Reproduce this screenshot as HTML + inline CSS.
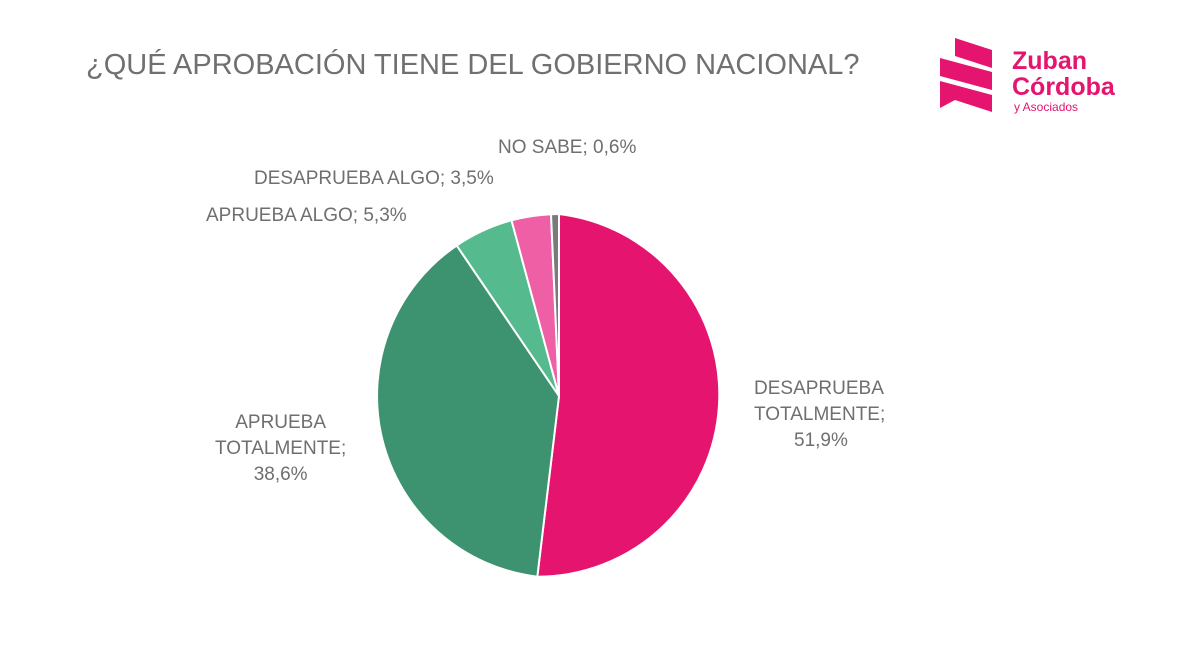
<!DOCTYPE html>
<html><head><meta charset="utf-8"><style>
body{margin:0;width:1200px;height:667px;background:#fff;overflow:hidden;font-family:"Liberation Sans",sans-serif}
.t{position:absolute;color:#6f6f6f;font-size:19px;line-height:26px}
</style></head><body>
<div class="t" style="left:86px;top:48px;font-size:29px;line-height:34px;color:#707070">¿QUÉ APROBACIÓN TIENE DEL GOBIERNO NACIONAL?</div>
<svg width="1200" height="667" style="position:absolute;left:0;top:0">
<g fill="#e5146f">
<polygon points="955,38 992,50 992,68 955,56"/>
<polygon points="940,58 992,72 992,90 940,76"/>
<polygon points="940,81 992,95 992,112 955,100 940,108"/>
</g>
<text x="1012" y="69" font-size="25" font-weight="bold" fill="#e5146f" font-family="Liberation Sans">Zuban</text>
<text x="1012" y="95" font-size="25" font-weight="bold" fill="#e5146f" font-family="Liberation Sans">Córdoba</text>
<text x="1014" y="111" font-size="12" fill="#e5146f" font-family="Liberation Sans">y Asociados</text>
<g stroke="#fff" stroke-width="2">
<path d="M559,396 L559,214 A182,182 0 0 1 537.3,576.7 Z" fill="#e5146f"/>
<path d="M559,396 L537.3,576.7 A182,182 0 0 1 456.7,245.5 Z" fill="#3d9370"/>
<path d="M559,396 L456.7,245.5 A182,182 0 0 1 511.5,220.3 Z" fill="#55bb8f"/>
<path d="M559,396 L511.5,220.3 A182,182 0 0 1 551,214.2 Z" fill="#ef5fa6"/>
<path d="M559,396 L551,214.2 A182,182 0 0 1 559,214 Z" fill="#7a7a7a"/>
</g>
</svg>
<div class="t" style="left:498px;top:135px">NO SABE; 0,6%</div>
<div class="t" style="left:254px;top:166px">DESAPRUEBA ALGO; 3,5%</div>
<div class="t" style="left:206px;top:203px">APRUEBA ALGO; 5,3%</div>
<div class="t" style="left:754px;top:376px">DESAPRUEBA<br>TOTALMENTE;<br><span style="padding-left:40px">51,9%</span></div>
<div class="t" style="left:215px;top:410px;text-align:center">APRUEBA<br>TOTALMENTE;<br>38,6%</div>
</body></html>
